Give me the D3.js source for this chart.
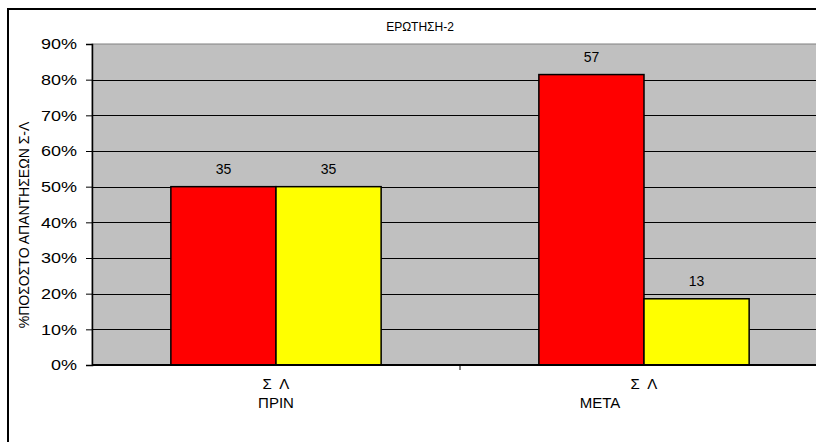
<!DOCTYPE html>
<html><head><meta charset="utf-8">
<script src="https://cdn.jsdelivr.net/npm/d3@7"></script>
<style>
body{margin:0;background:#fff;}
text{font-family:"Liberation Sans",Arial,sans-serif;fill:#000;}
</style></head>
<body><svg id="c" width="816" height="442"></svg>
<script>
const groups = ["ΠΡΙΝ", "ΜΕΤΑ"];
const innerLabel = "Σ Λ";
const seriesNames = ["Σ", "Λ"];
const counts = [[35, 35], [57, 13]];
const percents = [[50, 50], [81.43, 18.57]];
const colors = ["#FF0000", "#FFFF00"];
const yTicks = [0, 10, 20, 30, 40, 50, 60, 70, 80, 90];
const title = "ΕΡΩΤΗΣΗ-2";
const yTitle = "%ΠΟΣΟΣΤΟ ΑΠΑΝΤΗΣΕΩΝ Σ-Λ";

const svg = d3.select("#c");
const L = 92, T = 44, B = 365, R = 828;

// outer chart border
svg.append("rect").attr("x", 8).attr("y", 9).attr("width", 900).attr("height", 600)
  .attr("fill", "#fff").attr("stroke", "#000").attr("stroke-width", 2);

const x = d3.scaleBand().domain(groups).range([L, R]);
const xs = d3.scaleBand().domain(seriesNames).range([0, x.bandwidth()]).paddingInner(0).paddingOuter(0.75);
const y = d3.scaleLinear().domain([0, 90]).range([B, T]);

// plot area
svg.append("rect").attr("x", L).attr("y", T).attr("width", R - L).attr("height", B - T)
  .attr("fill", "#C0C0C0").attr("stroke", "#808080").attr("stroke-width", 1);

// gridlines
svg.append("g").selectAll("line").data(yTicks.filter(d => d > 0 && d < 90)).join("line")
  .attr("x1", L).attr("x2", R).attr("y1", d => Math.round(y(d)) + 0.5).attr("y2", d => Math.round(y(d)) + 0.5)
  .attr("stroke", "#000").attr("stroke-width", 1);

// bars
const g = svg.append("g").selectAll("g").data(groups).join("g")
  .attr("transform", d => `translate(${x(d)},0)`);
g.selectAll("rect").data((d, i) => percents[i].map((v, j) => ({v, j, c: counts[i][j]}))).join("rect")
  .attr("x", d => xs(seriesNames[d.j])).attr("width", xs.bandwidth())
  .attr("y", d => y(d.v)).attr("height", d => B - y(d.v))
  .attr("fill", d => colors[d.j]).attr("stroke", "#000").attr("stroke-width", 1.5);
g.selectAll("text").data((d, i) => percents[i].map((v, j) => ({v, j, c: counts[i][j]}))).join("text")
  .attr("x", d => xs(seriesNames[d.j]) + xs.bandwidth() / 2).attr("y", d => y(d.v) - 13)
  .attr("text-anchor", "middle").attr("font-size", 14).text(d => d.c);

// y axis
const yAxis = d3.axisLeft(y).tickValues(yTicks).tickFormat(d => d + "%").tickSize(6).tickPadding(9);
const ya = svg.append("g").attr("transform", `translate(${L},0)`).call(yAxis);
ya.select(".domain").attr("stroke", "#000").attr("stroke-width", 1.5);
ya.selectAll(".tick line").attr("stroke", "#000");
ya.selectAll(".tick text").attr("font-size", 15).attr("font-family", "Liberation Sans, Arial, sans-serif").attr("fill", "#000")
  .each(function () {
    const w = this.getComputedTextLength();
    d3.select(this).attr("textLength", w * 1.2).attr("lengthAdjust", "spacingAndGlyphs");
  });

// x axis
svg.append("line").attr("x1", L).attr("x2", R).attr("y1", B).attr("y2", B).attr("stroke", "#000").attr("stroke-width", 2);
svg.append("g").selectAll("line").data(groups.slice(1)).join("line")
  .attr("x1", d => x(d)).attr("x2", d => x(d)).attr("y1", B).attr("y2", B + 5).attr("stroke", "#000");
svg.append("g").selectAll("text").data(groups).join("text")
  .attr("x", d => x(d) + x.bandwidth() / 2).attr("y", B + 24)
  .attr("text-anchor", "middle").attr("font-size", 15).attr("xml:space", "preserve").text(innerLabel.replace(" ", "  "));
// outer labels centered on the visible part of each group
const visibleRight = 740;
svg.append("g").selectAll("text").data(groups).join("text")
  .attr("x", d => (x(d) + Math.min(x(d) + x.bandwidth(), visibleRight)) / 2).attr("y", B + 43)
  .attr("text-anchor", "middle").attr("font-size", 15).text(d => d);

// title
svg.append("text").attr("x", 420).attr("y", 31).attr("text-anchor", "middle").attr("font-size", 12).text(title);
// y title
svg.append("text").attr("transform", `translate(29,225) rotate(-90)`)
  .attr("text-anchor", "middle").attr("font-size", 14).text(yTitle);
</script></body></html>
